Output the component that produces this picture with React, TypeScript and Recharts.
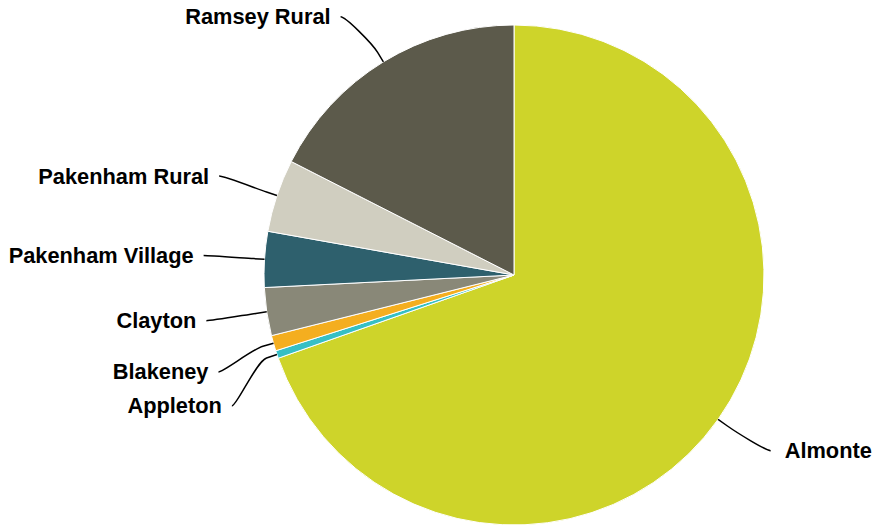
import { PieChart, Pie, Cell } from 'recharts'

const areas = ['Almonte', 'Appleton', 'Blakeney', 'Clayton', 'Pakenham Village', 'Pakenham Rural', 'Ramsey Rural']
const shares = [69.6, 0.5, 1.0, 3.1, 3.6, 4.7, 17.5]
const sliceColors = ['#CED42A', '#36BFC5', '#F4AE1F', '#898878', '#2E606D', '#D0CEC0', '#5C5A4B']

const data = areas.map((name, i) => ({ name, value: shares[i] }))

// label placement (highcharts-like: labels on a circle outside the pie, crowded ones spread apart)
const LABEL_RADIUS = 311
const labelNudge: Record<string, number> = { 'Ramsey Rural': 7, Blakeney: 12, Appleton: 32, Almonte: -4 }

function renderLabel(props: any) {
  const { cx, cy, midAngle, outerRadius } = props
  const name: string = props.name ?? props.payload?.name
  const rad = (-midAngle * Math.PI) / 180
  const cos = Math.cos(rad)
  const sin = Math.sin(rad)
  const right = cos >= 0

  const tx = cx + outerRadius * cos
  const ty = cy + outerRadius * sin
  const bx = cx + (outerRadius + 11) * cos
  const by = cy + (outerRadius + 11) * sin

  const ly = cy + LABEL_RADIUS * sin + (labelNudge[name] ?? 0)
  const dy = ly - cy
  const lx = cx + (right ? 1 : -1) * Math.sqrt(Math.max(LABEL_RADIUS * LABEL_RADIUS - dy * dy, 0))

  const d = `M${lx},${ly} C${lx + (right ? -5 : 5)},${ly} ${2 * bx - tx},${2 * by - ty} ${bx},${by} L${tx},${ty}`

  return (
    <g key={name}>
      <path d={d} fill="none" stroke="#000" strokeWidth={1.5} />
      <text
        x={right ? lx + 14 : lx - 10}
        y={ly + 7.5}
        textAnchor={right ? 'start' : 'end'}
        fontFamily="'Liberation Sans', Arial, sans-serif"
        fontWeight="bold"
        fontSize={21.8}
        fill="#000"
      >
        {name}
      </text>
    </g>
  )
}

export default function App() {
  return (
    <div style={{ position: 'absolute', left: 0, top: 0, width: 875, height: 529, background: '#fff' }}>
      <PieChart width={875} height={529} margin={{ top: 0, right: 0, bottom: 0, left: 0 }}>
        <Pie
          data={data}
          dataKey="value"
          nameKey="name"
          cx={514}
          cy={275}
          outerRadius={250}
          startAngle={90}
          endAngle={-270}
          stroke="#fff"
          strokeWidth={1}
          label={renderLabel}
          labelLine={false}
          isAnimationActive={false}
        >
          {data.map((entry, i) => (
            <Cell key={entry.name} fill={sliceColors[i]} />
          ))}
        </Pie>
      </PieChart>
    </div>
  )
}
